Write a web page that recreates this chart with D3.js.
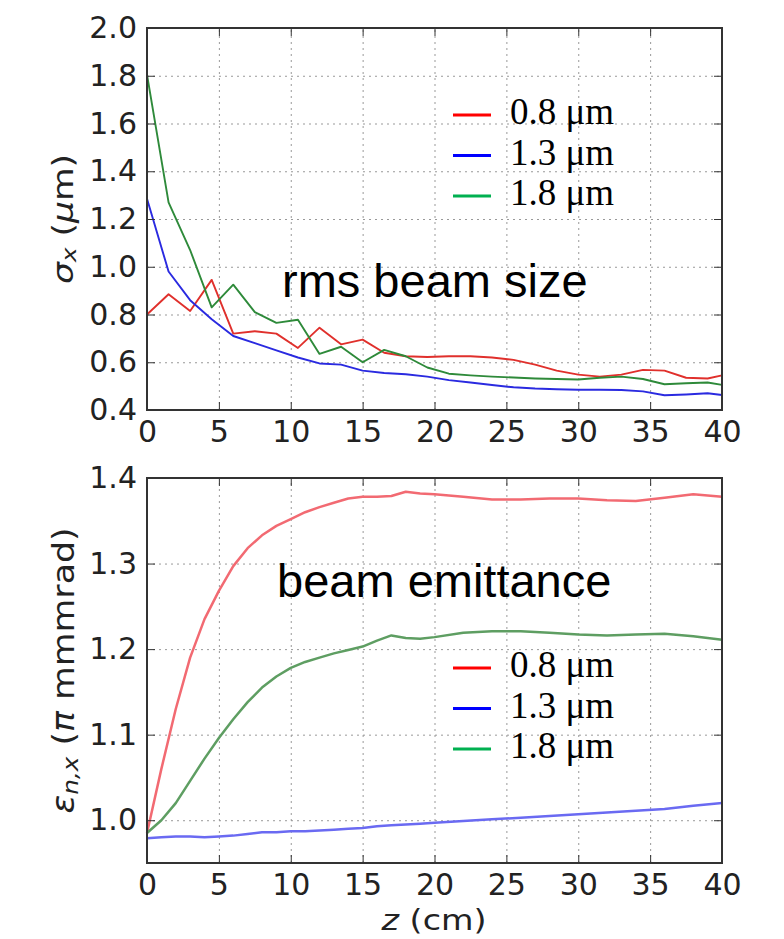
<!DOCTYPE html>
<html>
<head>
<meta charset="utf-8">
<script src="https://cdn.jsdelivr.net/npm/d3@7"></script>
<style>
  body { margin: 0; background: #fff; }
  .tick text { font-family: "DejaVu Sans", sans-serif; font-size: 30px; fill: #222; }
</style>
</head>
<body>
<div class="vis"></div>
<script>
const W = 784;
const H = 939;

// top panel: rms beam size
const zTop = [0, 1.5, 3, 4.5, 6, 7.5, 9, 10.5, 12, 13.5, 15, 16.5, 18, 19.5, 21, 22.5, 24, 25.5, 27, 28.5, 30, 31.5, 33, 34.5, 36, 37.5, 39, 40];
const size08 = [0.80, 0.885, 0.815, 0.945, 0.72, 0.73, 0.72, 0.66, 0.745, 0.675, 0.695, 0.64, 0.625, 0.622, 0.625, 0.625, 0.62, 0.61, 0.59, 0.565, 0.548, 0.54, 0.548, 0.568, 0.565, 0.535, 0.532, 0.545];
const size13 = [1.285, 0.98, 0.86, 0.78, 0.71, 0.68, 0.65, 0.62, 0.595, 0.59, 0.565, 0.555, 0.55, 0.54, 0.525, 0.515, 0.505, 0.495, 0.49, 0.487, 0.485, 0.485, 0.484, 0.478, 0.462, 0.465, 0.47, 0.463];
const size18 = [1.805, 1.27, 1.07, 0.83, 0.925, 0.81, 0.765, 0.778, 0.635, 0.665, 0.60, 0.652, 0.625, 0.578, 0.552, 0.545, 0.54, 0.536, 0.532, 0.53, 0.528, 0.535, 0.54, 0.53, 0.508, 0.512, 0.515, 0.505];

// bottom panel: beam emittance
const zBot = [0, 1, 2, 3, 4, 5, 6, 7, 8, 9, 10, 11, 12, 13, 14, 15, 16, 17, 18, 19, 20, 22, 24, 26, 28, 30, 32, 34, 36, 38, 40];
const emit08 = [0.985, 1.06, 1.13, 1.19, 1.235, 1.268, 1.297, 1.318, 1.333, 1.344, 1.352, 1.36, 1.366, 1.371, 1.376, 1.378, 1.378, 1.379, 1.384, 1.382, 1.381, 1.378, 1.375, 1.375, 1.376, 1.376, 1.374, 1.373, 1.377, 1.381, 1.378];
const emit13 = [0.979, 0.98, 0.981, 0.981, 0.98, 0.981, 0.982, 0.984, 0.986, 0.986, 0.987, 0.987, 0.988, 0.989, 0.99, 0.991, 0.993, 0.994, 0.995, 0.996, 0.997, 0.999, 1.001, 1.003, 1.005, 1.007, 1.009, 1.011, 1.013, 1.017, 1.02];
const emit18 = [0.985, 1.0, 1.02, 1.046, 1.072, 1.096, 1.118, 1.138, 1.155, 1.168, 1.178, 1.185, 1.19, 1.195, 1.199, 1.203, 1.21, 1.216, 1.213, 1.212, 1.214, 1.219, 1.221, 1.221, 1.219, 1.217, 1.216, 1.217, 1.218, 1.215, 1.211];

const legendLabels = ["0.8 \u03bcm", "1.3 \u03bcm", "1.8 \u03bcm"];
const legendColors = ["#ff0000", "#0000ff", "#00b050"];
const xTicks = [0, 5, 10, 15, 20, 25, 30, 35, 40];
const yTicksTop = [0.4, 0.6, 0.8, 1.0, 1.2, 1.4, 1.6, 1.8, 2.0];
const yTicksBot = [1.0, 1.1, 1.2, 1.3, 1.4];

const svg = d3.select(".vis").append("svg")
  .attr("width", W)
  .attr("height", H);

const left = 147, right = 722;

function panel(opts) {
  const x = d3.scaleLinear().domain([0, 40]).range([left, right]);
  const y = d3.scaleLinear().domain(opts.yDomain).range([opts.bottom, opts.top]);
  const g = svg.append("g");
  const ph = opts.bottom - opts.top;

  // grid
  g.append("g")
    .attr("transform", `translate(0,${opts.bottom})`)
    .call(d3.axisBottom(x).tickValues(xTicks.slice(1, -1)).tickSize(-ph).tickFormat(""))
    .call(a => a.select(".domain").remove())
    .selectAll("line").attr("stroke", "#999").attr("stroke-dasharray", "2,4");
  g.append("g")
    .attr("transform", `translate(${left},0)`)
    .call(d3.axisLeft(y).tickValues(opts.yTicks.filter(v => v > opts.yDomain[0] + 1e-9 && v < opts.yDomain[1] - 1e-9)).tickSize(-(right - left)).tickFormat(""))
    .call(a => a.select(".domain").remove())
    .selectAll("line").attr("stroke", "#999").attr("stroke-dasharray", "2,4");

  // lines
  const line = d3.line().x(d => x(d[0])).y(d => y(d[1]));
  opts.series.forEach(s => {
    g.append("path")
      .datum(opts.z.map((z, i) => [z, s.values[i]]))
      .attr("fill", "none")
      .attr("stroke", s.color)
      .attr("stroke-width", opts.lineWidth)
      .attr("stroke-linejoin", "round")
      .attr("d", line);
  });

  // axes with inward ticks
  g.append("g")
    .attr("transform", `translate(0,${opts.bottom})`)
    .call(d3.axisBottom(x).tickValues(xTicks).tickSize(-8).tickPadding(11).tickFormat(d3.format("d")))
    .call(a => a.select(".domain").remove())
    .selectAll("line").attr("stroke", "#333");
  g.append("g")
    .attr("transform", `translate(0,${opts.top})`)
    .call(d3.axisTop(x).tickValues(xTicks).tickSize(-8).tickFormat(""))
    .call(a => a.select(".domain").remove())
    .selectAll("line").attr("stroke", "#333");
  g.append("g")
    .attr("transform", `translate(${left},0)`)
    .call(d3.axisLeft(y).tickValues(opts.yTicks).tickSize(-8).tickPadding(10).tickFormat(d3.format(".1f")))
    .call(a => a.select(".domain").remove())
    .selectAll("line").attr("stroke", "#333");
  g.append("g")
    .attr("transform", `translate(${right},0)`)
    .call(d3.axisRight(y).tickValues(opts.yTicks).tickSize(-8).tickFormat(""))
    .call(a => a.select(".domain").remove())
    .selectAll("line").attr("stroke", "#333");

  // frame
  g.append("rect")
    .attr("x", left).attr("y", opts.top)
    .attr("width", right - left).attr("height", ph)
    .attr("fill", "none").attr("stroke", "#333").attr("stroke-width", 2);

  // annotation
  g.append("text")
    .attr("x", opts.noteX).attr("y", opts.noteY)
    .attr("font-family", "Liberation Sans, Arial, sans-serif")
    .attr("font-size", 47)
    .attr("fill", "#000")
    .text(opts.note);

  // legend
  const lg = g.append("g");
  legendLabels.forEach((lab, i) => {
    const yy = opts.legendY + i * 40.5;
    lg.append("line")
      .attr("x1", 453).attr("x2", 491)
      .attr("y1", yy).attr("y2", yy)
      .attr("stroke", legendColors[i]).attr("stroke-width", 3);
    lg.append("text")
      .attr("x", 510).attr("y", yy + 9)
      .attr("font-family", "Liberation Serif, serif")
      .attr("font-size", 37)
      .attr("fill", "#000")
      .text(lab);
  });

  // y label
  const yl = g.append("text")
    .attr("transform", `translate(${opts.yLabelX},${(opts.top + opts.bottom) / 2}) rotate(-90)`)
    .attr("text-anchor", "middle")
    .attr("dominant-baseline", "central")
    .attr("font-family", "DejaVu Sans, sans-serif")
    .attr("font-size", opts.yLabelSize)
    .attr("fill", "#222")
    .attr("textLength", opts.yLabelLen)
    .attr("lengthAdjust", "spacingAndGlyphs");
  opts.yLabel(yl);
}

panel({
  top: 28, bottom: 410, yDomain: [0.4, 2.0], yTicks: yTicksTop,
  z: zTop, lineWidth: 1.9,
  series: [
    { values: size08, color: "#e0302c" },
    { values: size13, color: "#2a2ae0" },
    { values: size18, color: "#2e8a3a" }
  ],
  note: "rms beam size", noteX: 282, noteY: 297,
  legendY: 115,
  yLabelX: 63, yLabelSize: 28, yLabelLen: 130,
  yLabel: t => {
    t.append("tspan").attr("font-style", "italic").text("\u03c3");
    t.append("tspan").attr("font-style", "italic").attr("font-size", 20).attr("dy", 6).text("x");
    t.append("tspan").attr("dy", -6).text(" (");
    t.append("tspan").attr("font-style", "italic").text("\u03bc");
    t.append("tspan").text("m)");
  }
});

panel({
  top: 478, bottom: 863, yDomain: [0.95, 1.4], yTicks: yTicksBot,
  z: zBot, lineWidth: 2.5,
  series: [
    { values: emit08, color: "#f26a72" },
    { values: emit13, color: "#6a6af2" },
    { values: emit18, color: "#5e9e62" }
  ],
  note: "beam emittance", noteX: 277, noteY: 597,
  legendY: 668,
  yLabelX: 63, yLabelSize: 31, yLabelLen: 286,
  yLabel: t => {
    t.append("tspan").attr("font-style", "italic").text("\u03b5");
    t.append("tspan").attr("font-style", "italic").attr("font-size", 22).attr("dy", 7).text("n,x");
    t.append("tspan").attr("dy", -7).text(" (");
    t.append("tspan").attr("font-style", "italic").text("\u03c0");
    t.append("tspan").text(" mmmrad)");
  }
});

// x label
const xl = svg.append("text")
  .attr("x", 434).attr("y", 930)
  .attr("text-anchor", "middle")
  .attr("font-family", "DejaVu Sans, sans-serif")
  .attr("font-size", 29)
  .attr("fill", "#222")
  .attr("textLength", 105)
  .attr("lengthAdjust", "spacingAndGlyphs");
xl.append("tspan").attr("font-style", "italic").text("z");
xl.append("tspan").text(" (cm)");
</script>
</body>
</html>
